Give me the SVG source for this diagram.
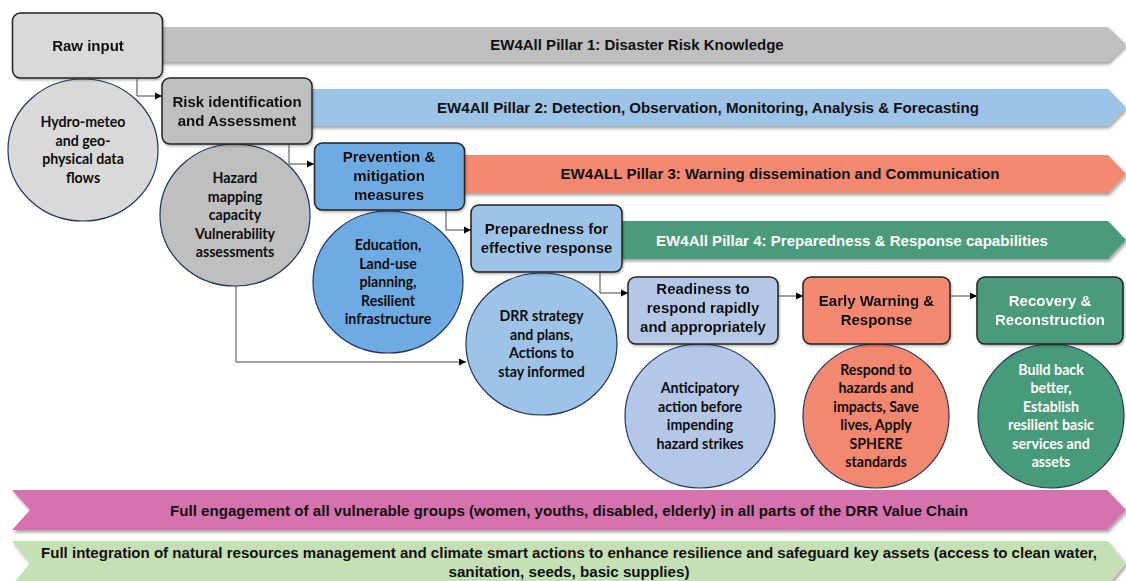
<svg xmlns="http://www.w3.org/2000/svg" width="1126" height="581" viewBox="0 0 1126 581">
  <style>
    .bt { font-family: "Liberation Sans", Arial, sans-serif; font-weight: bold; font-size: 15px; fill: #111; text-anchor: middle; }
    .ct { font-family: Lato, "Liberation Sans", sans-serif; font-weight: bold; font-size: 14.2px; fill: #0d0d0d; text-anchor: middle; }
    .pt { font-family: "Liberation Sans", Arial, sans-serif; font-weight: bold; font-size: 15px; fill: #111; text-anchor: middle; }
    .ft { font-family: "Liberation Sans", Arial, sans-serif; font-weight: bold; font-size: 14px; fill: #111; text-anchor: middle; }
    .white { fill: #fff; }
    .box { stroke: #222; stroke-width: 1.5; }
    .circ { stroke: #1f3560; stroke-width: 1.2; }
    .bar { filter: url(#shadow); }
    .conn { fill: none; stroke: #444; stroke-width: 1; marker-end: url(#arr); }
  </style>
  <defs>
    <filter id="shadow" x="-5%" y="-30%" width="110%" height="170%">
      <feDropShadow dx="1.5" dy="2.5" stdDeviation="1.5" flood-color="#000" flood-opacity="0.35"/>
    </filter>
    <filter id="bshadow" x="-10%" y="-10%" width="125%" height="130%">
      <feDropShadow dx="1" dy="1.5" stdDeviation="1" flood-color="#000" flood-opacity="0.3"/>
    </filter>
    <marker id="arr" markerWidth="8" markerHeight="8" refX="7" refY="4" orient="auto" markerUnits="userSpaceOnUse">
      <path d="M0,0.5 L7,4 L0,7.5 z" fill="#000"/>
    </marker>
  </defs>

  <rect width="1126" height="581" fill="#fff"/>

  <!-- pillar bands -->
  <g id="pillar1">
    <polygon class="bar" points="150,27 1108,27 1126,44.5 1108,62 150,62" fill="#bfbfbf"/>
    <text class="pt" x="637" y="49.5">EW4All Pillar 1: Disaster Risk Knowledge</text>
  </g>
  <g id="pillar2">
    <polygon class="bar" points="300,89 1108,89 1126,107.5 1108,126 300,126" fill="#9dc3e6"/>
    <text class="pt" x="708" y="113" textLength="542" lengthAdjust="spacingAndGlyphs">EW4All Pillar 2: Detection, Observation, Monitoring, Analysis &amp; Forecasting</text>
  </g>
  <g id="pillar3">
    <polygon class="bar" points="455,155 1108,155 1126,174 1108,193 455,193" fill="#f4886f"/>
    <text class="pt" x="780" y="179" textLength="439" lengthAdjust="spacingAndGlyphs">EW4ALL Pillar 3: Warning dissemination and Communication</text>
  </g>
  <g id="pillar4">
    <polygon class="bar" points="610,221 1108,221 1126,240 1108,259 610,259" fill="#489b7a"/>
    <text class="pt white" x="852" y="245.5" textLength="392" lengthAdjust="spacingAndGlyphs">EW4All Pillar 4: Preparedness &amp; Response capabilities</text>
  </g>

  <!-- cross-cutting bands -->
  <g id="engagement">
    <polygon class="bar" points="12,490 1107,490 1126,510 1107,530 12,530 30,510" fill="#d672ad"/>
    <text class="ft" x="569" y="516" textLength="798" lengthAdjust="spacingAndGlyphs">Full engagement of all vulnerable groups (women, youths, disabled, elderly) in all parts of the DRR Value Chain</text>
  </g>
  <g id="integration">
    <polygon class="bar" points="12,541 1108,541 1126,563 1108,585 12,585 30,563" fill="#c5e0b4"/>
    <text class="ft" x="569" y="558" textLength="1056" lengthAdjust="spacingAndGlyphs">Full integration of natural resources management and climate smart actions to enhance resilience and safeguard key assets (access to clean water,</text>
    <text class="ft" x="569" y="577" textLength="241" lengthAdjust="spacingAndGlyphs">sanitation, seeds, basic supplies)</text>
  </g>

  <!-- outcome circles -->
  <g id="c-hydro">
    <ellipse class="circ" cx="83" cy="150" rx="75" ry="71" fill="#d9d9d9"/>
    <text class="ct" x="83" y="127">Hydro-meteo</text>
    <text class="ct" x="83" y="145.5">and geo-</text>
    <text class="ct" x="83" y="164">physical data</text>
    <text class="ct" x="83" y="182.5">flows</text>
  </g>
  <g id="c-hazard">
    <ellipse class="circ" cx="235" cy="215" rx="75" ry="71" fill="#bfbfbf"/>
    <text class="ct" x="235" y="183">Hazard</text>
    <text class="ct" x="235" y="201.5">mapping</text>
    <text class="ct" x="235" y="220">capacity</text>
    <text class="ct" x="235" y="238.5">Vulnerability</text>
    <text class="ct" x="235" y="257">assessments</text>
  </g>
  <g id="c-education">
    <ellipse class="circ" cx="388" cy="282" rx="75" ry="71" fill="#6eabe3"/>
    <text class="ct" x="388" y="250">Education,</text>
    <text class="ct" x="388" y="268.5">Land-use</text>
    <text class="ct" x="388" y="287">planning,</text>
    <text class="ct" x="388" y="305.5">Resilient</text>
    <text class="ct" x="388" y="324">infrastructure</text>
  </g>
  <g id="c-drr">
    <ellipse class="circ" cx="541.5" cy="344" rx="75.5" ry="71" fill="#9dc3e6"/>
    <text class="ct" x="541.5" y="321">DRR strategy</text>
    <text class="ct" x="541.5" y="339.5">and plans,</text>
    <text class="ct" x="541.5" y="358">Actions to</text>
    <text class="ct" x="541.5" y="376.5">stay informed</text>
  </g>
  <g id="c-anticipatory">
    <ellipse class="circ" cx="700" cy="416" rx="75" ry="72" fill="#b4c7e7"/>
    <text class="ct" x="700" y="393">Anticipatory</text>
    <text class="ct" x="700" y="411.5">action before</text>
    <text class="ct" x="700" y="430">impending</text>
    <text class="ct" x="700" y="448.5">hazard strikes</text>
  </g>
  <g id="c-respond">
    <ellipse class="circ" cx="876" cy="416" rx="73" ry="72" fill="#f4886f"/>
    <text class="ct" x="876" y="374.5">Respond to</text>
    <text class="ct" x="876" y="393">hazards and</text>
    <text class="ct" x="876" y="411.5">impacts, Save</text>
    <text class="ct" x="876" y="430">lives, Apply</text>
    <text class="ct" x="876" y="448.5">SPHERE</text>
    <text class="ct" x="876" y="467">standards</text>
  </g>
  <g id="c-build">
    <ellipse class="circ" cx="1051" cy="416" rx="73" ry="72" fill="#489b7a"/>
    <text class="ct white" x="1051" y="374.5">Build back</text>
    <text class="ct white" x="1051" y="393">better,</text>
    <text class="ct white" x="1051" y="411.5">Establish</text>
    <text class="ct white" x="1051" y="430">resilient basic</text>
    <text class="ct white" x="1051" y="448.5">services and</text>
    <text class="ct white" x="1051" y="467">assets</text>
  </g>

  <!-- stage boxes -->
  <g id="raw-input" filter="url(#bshadow)">
    <rect class="box" x="12.5" y="13" width="150" height="65" rx="8" fill="#d9d9d9"/>
    <text class="bt" x="88" y="51">Raw input</text>
  </g>
  <g id="risk-identification" filter="url(#bshadow)">
    <rect class="box" x="162" y="78" width="150" height="66" rx="8" fill="#bfbfbf"/>
    <text class="bt" x="237" y="107">Risk identification</text>
    <text class="bt" x="237" y="126">and Assessment</text>
  </g>
  <g id="prevention" filter="url(#bshadow)">
    <rect class="box" x="314.5" y="143" width="150" height="67" rx="8" fill="#6eabe3"/>
    <text class="bt" x="389" y="162">Prevention &amp;</text>
    <text class="bt" x="389" y="181">mitigation</text>
    <text class="bt" x="389" y="199.5">measures</text>
  </g>
  <g id="preparedness" filter="url(#bshadow)">
    <rect class="box" x="471" y="205" width="151" height="67" rx="8" fill="#9dc3e6"/>
    <text class="bt" x="546.5" y="234">Preparedness for</text>
    <text class="bt" x="546.5" y="253">effective response</text>
  </g>
  <g id="readiness" filter="url(#bshadow)">
    <rect class="box" x="628" y="277" width="150" height="67" rx="8" fill="#b4c7e7"/>
    <text class="bt" x="703" y="294">Readiness to</text>
    <text class="bt" x="703" y="313">respond rapidly</text>
    <text class="bt" x="703" y="332">and appropriately</text>
  </g>
  <g id="early-warning" filter="url(#bshadow)">
    <rect class="box" x="803" y="277" width="147" height="67" rx="8" fill="#f4886f"/>
    <text class="bt" x="876.5" y="305.5">Early Warning &amp;</text>
    <text class="bt" x="876.5" y="324.5">Response</text>
  </g>
  <g id="recovery" filter="url(#bshadow)">
    <rect class="box" x="977" y="277" width="146" height="67" rx="8" fill="#489b7a"/>
    <text class="bt white" x="1050" y="305.5">Recovery &amp;</text>
    <text class="bt white" x="1050" y="324.5">Reconstruction</text>
  </g>

  <!-- connectors -->
  <g id="connectors">
    <path class="conn" d="M137,78 V96 H162"/>
    <path class="conn" d="M289,144 V164 H314"/>
    <path class="conn" d="M446,210 V230 H471"/>
    <path class="conn" d="M600,272 V293 H628"/>
    <path class="conn" d="M236,286 V362 H466"/>
    <path class="conn" d="M778,296 H803"/>
    <path class="conn" d="M950,296 H977"/>
  </g>
</svg>
